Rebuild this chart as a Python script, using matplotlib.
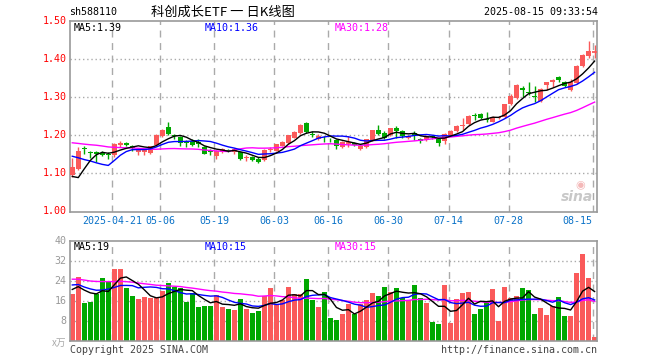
import numpy as np
import pandas as pd
import matplotlib
matplotlib.use("Agg")
import matplotlib.pyplot as plt

# ---------------- data ----------------
tick_labels = ['2025-04-21', '05-06', '05-19', '06-03', '06-16', '06-30', '07-14', '07-28', '08-15']
tick_index = [7, 15, 24, 34, 43, 53, 63, 73, 87]

open_ = [1.095, 1.112, 1.166, 1.156, 1.155, 1.153, 1.152, 1.147, 1.174, 1.179,
         1.171, 1.156, 1.156, 1.154, 1.174, 1.197, 1.222, 1.200, 1.196, 1.182,
         1.186, 1.182, 1.170, 1.159, 1.146, 1.156, 1.161, 1.156, 1.155, 1.140,
         1.144, 1.139, 1.134, 1.161, 1.160, 1.173, 1.181, 1.194, 1.205, 1.231,
         1.203, 1.190, 1.194, 1.191, 1.187, 1.169, 1.180, 1.181, 1.164, 1.169,
         1.187, 1.215, 1.206, 1.200, 1.220, 1.211, 1.192, 1.205, 1.191, 1.189,
         1.198, 1.192, 1.185, 1.201, 1.211, 1.225, 1.230, 1.254, 1.256, 1.243,
         1.236, 1.245, 1.247, 1.282, 1.297, 1.325, 1.314, 1.303, 1.289, 1.331,
         1.339, 1.352, 1.341, 1.319, 1.337, 1.382, 1.409, 1.419]
high = [1.140, 1.168, 1.172, 1.160, 1.158, 1.158, 1.156, 1.180, 1.186, 1.182,
        1.175, 1.166, 1.165, 1.173, 1.203, 1.216, 1.235, 1.204, 1.198, 1.188,
        1.190, 1.190, 1.172, 1.163, 1.161, 1.166, 1.165, 1.167, 1.157, 1.147,
        1.146, 1.143, 1.164, 1.168, 1.178, 1.184, 1.201, 1.211, 1.229, 1.234,
        1.210, 1.203, 1.197, 1.194, 1.189, 1.184, 1.197, 1.183, 1.173, 1.190,
        1.214, 1.226, 1.210, 1.219, 1.224, 1.213, 1.200, 1.211, 1.193, 1.200,
        1.201, 1.194, 1.205, 1.214, 1.227, 1.245, 1.253, 1.258, 1.258, 1.261,
        1.251, 1.251, 1.283, 1.308, 1.334, 1.329, 1.341, 1.329, 1.323, 1.341,
        1.348, 1.356, 1.343, 1.348, 1.384, 1.413, 1.448, 1.438]
low = [1.090, 1.108, 1.152, 1.140, 1.129, 1.145, 1.137, 1.143, 1.170, 1.172,
       1.160, 1.149, 1.148, 1.150, 1.172, 1.195, 1.200, 1.190, 1.172, 1.170,
       1.172, 1.170, 1.150, 1.147, 1.138, 1.154, 1.155, 1.152, 1.136, 1.133,
       1.132, 1.128, 1.132, 1.156, 1.158, 1.171, 1.178, 1.192, 1.203, 1.206,
       1.196, 1.188, 1.183, 1.183, 1.165, 1.167, 1.168, 1.173, 1.161, 1.167,
       1.185, 1.200, 1.191, 1.198, 1.193, 1.194, 1.190, 1.188, 1.179, 1.186,
       1.190, 1.172, 1.177, 1.199, 1.209, 1.213, 1.228, 1.240, 1.243, 1.235,
       1.234, 1.243, 1.245, 1.280, 1.294, 1.301, 1.306, 1.288, 1.287, 1.320,
       1.326, 1.341, 1.328, 1.317, 1.335, 1.380, 1.402, 1.403]
close = [1.117, 1.160, 1.163, 1.153, 1.152, 1.149, 1.147, 1.178, 1.180, 1.175,
         1.166, 1.163, 1.163, 1.171, 1.202, 1.215, 1.204, 1.197, 1.180, 1.179,
         1.175, 1.176, 1.152, 1.157, 1.159, 1.163, 1.159, 1.164, 1.138, 1.142,
         1.135, 1.131, 1.162, 1.163, 1.176, 1.182, 1.200, 1.209, 1.227, 1.209,
         1.200, 1.199, 1.192, 1.189, 1.172, 1.182, 1.181, 1.175, 1.171, 1.189,
         1.213, 1.204, 1.194, 1.218, 1.211, 1.198, 1.198, 1.201, 1.186, 1.198,
         1.195, 1.181, 1.203, 1.212, 1.225, 1.227, 1.251, 1.251, 1.245, 1.241,
         1.249, 1.249, 1.282, 1.302, 1.332, 1.318, 1.312, 1.301, 1.321, 1.339,
         1.346, 1.344, 1.330, 1.339, 1.382, 1.411, 1.422, 1.420]
volume = [18.7, 25.6, 15.1, 15.5, 18.7, 25.1, 24.0, 28.5, 28.8, 21.1,
          17.9, 16.7, 17.3, 16.9, 16.9, 19.9, 23.2, 21.6, 20.9, 15.5,
          18.9, 13.6, 13.9, 13.9, 18.1, 13.6, 12.8, 12.4, 16.8, 12.7,
          11.2, 11.9, 17.9, 21.2, 14.1, 16.3, 21.5, 18.8, 18.8, 24.8,
          16.3, 13.5, 19.3, 9.1, 8.3, 10.7, 14.7, 10.7, 14.7, 16.3,
          19.1, 17.9, 21.5, 19.5, 21.1, 16.9, 16.3, 22.3, 17.2, 15.1,
          7.5, 6.7, 22.3, 7.2, 16.7, 19.2, 19.5, 10.7, 12.8, 15.9,
          20.7, 7.9, 21.5, 17.2, 17.9, 21.1, 20.4, 10.7, 13.1, 10.3,
          13.8, 17.5, 9.9, 9.9, 27.1, 34.7, 25.1, 1.6]

# earlier sessions (not drawn) - only used so moving averages start where the chart shows them
prior_close = [1.21, 1.22, 1.20, 1.19, 1.21, 1.22, 1.21, 1.20, 1.19, 1.18,
               1.19, 1.20, 1.21, 1.20, 1.19, 1.18, 1.19, 1.20, 1.19, 1.18,
               1.20, 1.21, 1.19, 1.20, 1.19, 1.175, 1.048, 1.043, 1.077]
prior_volume = [26, 25, 27, 24, 26, 25, 28, 26, 25, 24,
                27, 26, 25, 26, 24, 27, 26, 25, 26, 27,
                24, 25, 23, 24, 24.5, 20, 22, 21, 20.8]

price_ma_labels = ['MA5:1.39', 'MA10:1.36', 'MA30:1.28']
vol_ma_labels = ['MA5:19', 'MA10:15', 'MA30:15']
price_ticks = [1.00, 1.10, 1.20, 1.30, 1.40, 1.50]
vol_ticks = [8, 16, 24, 32, 40]

# ---------------- style ----------------
RED = '#fa5a5a'
GREEN = '#00a800'
FRAME = '#999999'
GRID = '#aaaaaa'
MONO = 'DejaVu Sans Mono'
W, H = 660, 360

n = len(close)
x = np.arange(n)
allc = pd.Series(prior_close + close)
allv = pd.Series(prior_volume + volume)
k = len(prior_close)
ma_p = {m: allc.rolling(m).mean().values[k:] for m in (5, 10, 30)}
ma_v = {m: allv.rolling(m).mean().values[len(prior_volume):] for m in (5, 10, 30)}
colors = [RED if c >= o else GREEN for o, c in zip(open_, close)]

fig = plt.figure(figsize=(W / 100, H / 100), dpi=100)
fig.patch.set_facecolor('white')

left_px, right_px = 70.3, 597.3
def fx(px):
    return px / W
def fy(py):
    return 1 - py / H

ax = fig.add_axes([fx(left_px), fy(211.5), fx(right_px) - fx(left_px), fy(21) - fy(211.5)])
axv = fig.add_axes([fx(left_px), fy(340.7), fx(right_px) - fx(left_px), fy(240.7) - fy(340.7)])

xlo, xhi = -0.33, 87.45
bw = 0.75
for a in (ax, axv):
    a.set_xlim(xlo, xhi)
    a.set_xticks([])
    a.set_yticks([])
    for s in a.spines.values():
        s.set_color(FRAME)
        s.set_linewidth(1.2)
    for ti in tick_index:
        a.axvline(ti - 0.33, color=GRID, lw=1.0, ls=(0, (5, 4)), zorder=0)

ax.set_ylim(1.00, 1.50)
axv.set_ylim(0, 40)

for yv in price_ticks[1:-1]:
    ax.axhline(yv, color=GRID, lw=1.0, ls=(0, (1, 2)), zorder=0)
for yv in vol_ticks[:-1]:
    axv.axhline(yv, color=GRID, lw=1.0, ls=(0, (1, 2)), zorder=0)

# candles
for i in range(n):
    o, h, l, c = open_[i], high[i], low[i], close[i]
    col = colors[i]
    ax.vlines(x[i], l, h, color=col, lw=1.0, zorder=2)
    bot, top = min(o, c), max(o, c)
    if top - bot < 0.002:
        ax.hlines((o + c) / 2, x[i] - bw / 2, x[i] + bw / 2, color=col, lw=1.3, zorder=3)
    else:
        ax.bar(x[i], top - bot, bottom=bot, width=bw, color=col, lw=0, zorder=3)

ax.plot(x, ma_p[30], color='#ff00ff', lw=1.0, zorder=4)
ax.plot(x, ma_p[10], color='#0000ff', lw=1.0, zorder=4)
ax.plot(x, ma_p[5], color='#000000', lw=1.0, zorder=4)

axv.bar(x, volume, width=bw, color=colors, lw=0, zorder=2)
axv.plot(x, ma_v[30], color='#ff00ff', lw=1.0, zorder=4)
axv.plot(x, ma_v[10], color='#0000ff', lw=1.0, zorder=4)
axv.plot(x, ma_v[5], color='#000000', lw=1.0, zorder=4)

# y labels
for yv in price_ticks:
    ax.text(-0.007, yv, f'{yv:.2f}', transform=ax.get_yaxis_transform(), ha='right', va='center',
            color='#ff0000', fontsize=7.2, family=MONO)
for yv in vol_ticks:
    axv.text(-0.007, yv, f'{yv}', transform=axv.get_yaxis_transform(), ha='right', va='center',
             color='#999999', fontsize=7.2, family=MONO)
fig.text(fx(66.5), fy(343), 'x万', ha='right', va='center', color='#aaaaaa', fontsize=7,
         family=['Noto Sans CJK SC', 'DejaVu Sans'])

# date labels
xt = ax.get_xaxis_transform()
for lab, ti in zip(tick_labels, tick_index):
    ha = 'right' if ti == tick_index[-1] else 'center'
    ax.text(ti - 0.33, -0.05, lab, transform=xt, ha=ha, va='center', color='#0a72c8',
            fontsize=7.2, family=MONO)

# MA legends
ma_cols = ['#000000', '#0000ff', '#ff00ff']
ma_x = [74, 205, 335]
for lab, c, px in zip(price_ma_labels, ma_cols, ma_x):
    fig.text(fx(px), fy(28), lab, ha='left', va='center', color=c, fontsize=7.2, family=MONO)
for lab, c, px in zip(vol_ma_labels, ma_cols, ma_x):
    fig.text(fx(px), fy(247.5), lab, ha='left', va='center', color=c, fontsize=7.2, family=MONO)

# header
fig.text(fx(69.5), fy(12), 'sh588110', ha='left', va='center', color='#000000', fontsize=7.2, family=MONO)
fig.text(fx(223), fy(12), '科创成长ETF 一 日K线图', ha='center', va='center', color='#000000',
         fontsize=9.5, family=['Noto Sans CJK SC', 'DejaVu Sans'])
fig.text(fx(597.5), fy(12), '2025-08-15 09:33:54', ha='right', va='center', color='#000000',
         fontsize=7.2, family=MONO)

# footer
fig.text(fx(69.5), fy(350), 'Copyright 2025 SINA.COM', ha='left', va='center', color='#444444',
         fontsize=7.2, family=MONO)
fig.text(fx(597.5), fy(350), 'http://finance.sina.com.cn', ha='right', va='center', color='#444444',
         fontsize=7.2, family=MONO)

# watermark
fig.text(fx(577), fy(197), 'sina', ha='center', va='center', color='#c8c8c8', fontsize=10,
         fontweight='bold', style='italic', family='DejaVu Sans')
fig.text(fx(580), fy(185), '◉', ha='center', va='center', color='#f4b8b8', fontsize=8,
         family='DejaVu Sans')

fig.savefig('out.png', dpi=100)
